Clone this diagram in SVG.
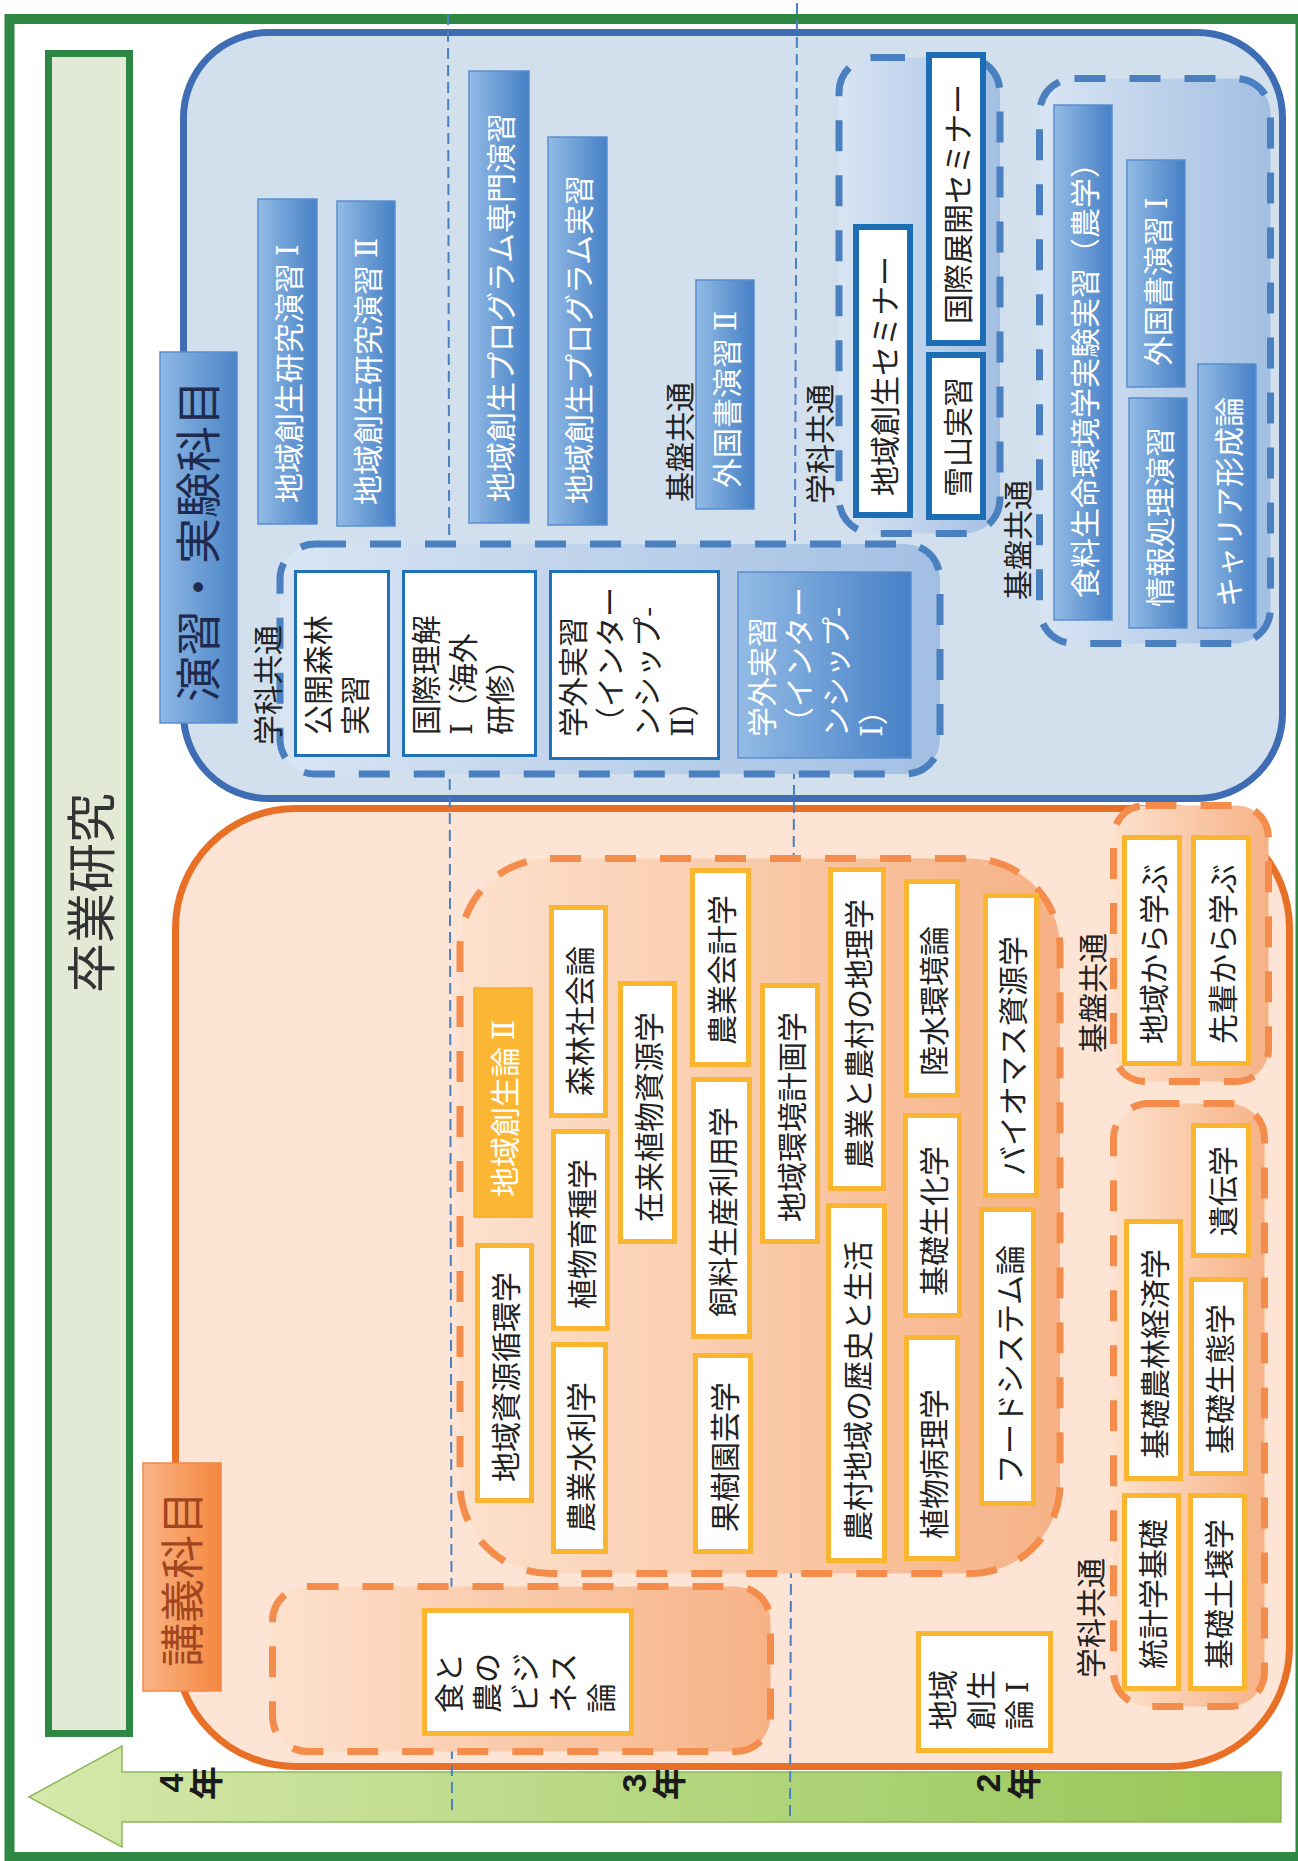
<svg xmlns="http://www.w3.org/2000/svg" width="1298" height="1861" viewBox="0 0 1298 1861">
<defs>
<linearGradient id="gBB" x1="0" y1="0" x2="1" y2="0"><stop offset="0" stop-color="#93bbe5"/><stop offset="1" stop-color="#4580c6"/></linearGradient>
<linearGradient id="gBG" x1="0" y1="0" x2="1" y2="0"><stop offset="0" stop-color="#d9e5f3"/><stop offset="1" stop-color="#a2bfe3"/></linearGradient>
<linearGradient id="gOG" x1="0" y1="0" x2="1" y2="0"><stop offset="0" stop-color="#fde1cd"/><stop offset="1" stop-color="#f6b286"/></linearGradient>
<linearGradient id="gLB" x1="0" y1="0" x2="1" y2="0"><stop offset="0" stop-color="#8fb8e4"/><stop offset="1" stop-color="#4a84c7"/></linearGradient>
<linearGradient id="gLO" x1="0" y1="0" x2="1" y2="0"><stop offset="0" stop-color="#f9b588"/><stop offset="1" stop-color="#f5873e"/></linearGradient>
<linearGradient id="gAr" x1="0" y1="0" x2="1" y2="0"><stop offset="0" stop-color="#d6e8ab"/><stop offset="1" stop-color="#95c657"/></linearGradient>
</defs>
<style>
.t{font-family:"Noto Sans CJK JP","Noto Sans",sans-serif;font-size:30px;dominant-baseline:central}
.r{font-family:"DejaVu Serif","Liberation Serif","Noto Sans CJK JP",serif}
.w{fill:#ffffff}
.k{fill:#222222}
.bb{fill:url(#gBB);stroke:#5a8fce;stroke-width:1.5}
.wb{fill:#ffffff;stroke:#1f72b8;stroke-width:3}
.wbt{fill:#ffffff;stroke:#1c6db5;stroke-width:6}
.ob{fill:#ffffff;stroke:#fbb631;stroke-width:5}
.bg{fill:url(#gBG);stroke:#4a7fc0;stroke-width:7;stroke-dasharray:31 24}
.og{fill:url(#gOG);stroke:#f48d4c;stroke-width:7;stroke-dasharray:31 24}
.yr{font-family:"Liberation Sans","Noto Sans CJK JP",sans-serif;font-size:34px;font-weight:bold;fill:#1a1a1a;dominant-baseline:central;text-anchor:middle}
.dl{stroke:#4a7fc1;stroke-width:2;stroke-dasharray:11 6;fill:none}
</style>
<rect x="0" y="0" width="1298" height="1861" fill="#ffffff"/>
<g id="frame">
<rect x="9.5" y="19" width="1291" height="1838" fill="#ffffff" stroke="#2e8743" stroke-width="10"/>
</g>
<g id="sotsugyo">
<rect x="48.5" y="53.5" width="81" height="1680" fill="#e2ead5" stroke="#2e8743" stroke-width="7"/>
<text class="t" style="font-size:50px;fill:#333" text-anchor="middle" transform="translate(88,893) rotate(-90)">卒業研究</text>
</g>
<g id="arrow">
<polygon points="29,1797 122,1746 122,1772 1281,1772 1281,1822 122,1822 122,1847" fill="url(#gAr)" stroke="#8fb85a" stroke-width="1.5"/>
<text class="yr" transform="translate(171,1783) rotate(-90)">4</text>
<text class="yr" transform="translate(207,1783) rotate(-90)">年</text>
<text class="yr" transform="translate(634,1783) rotate(-90)">3</text>
<text class="yr" transform="translate(670,1783) rotate(-90)">年</text>
<text class="yr" transform="translate(988,1783) rotate(-90)">2</text>
<text class="yr" transform="translate(1025,1783) rotate(-90)">年</text>
</g>
<g id="enshu-area">
<rect x="183.5" y="32.5" width="1099" height="766" rx="85" fill="#d2e0ee" stroke="#3e6db4" stroke-width="7"/>
</g>
<g id="kogi-area">
<rect x="175.5" y="808.5" width="1114" height="958" rx="120" fill="#fde4d4" stroke="#e87026" stroke-width="7"/>
</g>
<g id="connectors">
<line class="dl" x1="448" y1="14" x2="452" y2="1810"/>
<line class="dl" x1="797" y1="3" x2="790" y2="1820"/>
</g>
<g id="label-enshu">
<rect x="160" y="352" width="77" height="371" fill="url(#gLB)" stroke="#5a8fce" stroke-width="1.5"/>
<text class="t" style="font-size:46px;fill:#1e2b4f" text-anchor="middle" transform="translate(195,541) rotate(-90)">演習・実験科目</text>
</g>
<g id="label-kogi">
<rect x="143" y="1463" width="78" height="228" fill="url(#gLO)" stroke="#f08a4a" stroke-width="1.5"/>
<text class="t" style="font-size:44px;fill:#a2461f" text-anchor="middle" transform="translate(180,1579) rotate(-90)">講義科目</text>
</g>
<g id="blue-top">
<g id="n-kenkyu1"><rect class="bb" x="258" y="199" width="59" height="325"/><text class="t w" transform="translate(287,503) rotate(-90)">地域創生研究演習 <tspan class="r">Ⅰ</tspan></text></g>
<g id="n-kenkyu2"><rect class="bb" x="337" y="201" width="58" height="325"/><text class="t w" transform="translate(366,505) rotate(-90)">地域創生研究演習 <tspan class="r">Ⅱ</tspan></text></g>
<g id="n-senmon"><rect class="bb" x="469" y="71" width="60" height="452"/><text class="t w" transform="translate(499,502) rotate(-90)">地域創生プログラム専門演習</text></g>
<g id="n-program"><rect class="bb" x="548" y="137" width="59" height="388"/><text class="t w" transform="translate(577,504) rotate(-90)">地域創生プログラム実習</text></g>
<g id="n-gaikoku2"><rect class="bb" x="696" y="280" width="58" height="229"/><text class="t w" transform="translate(725,488) rotate(-90)">外国書演習 <tspan class="r">Ⅱ</tspan></text></g>
<text class="t k" transform="translate(678,502) rotate(-90)">基盤共通</text>
<text class="t k" transform="translate(818,504) rotate(-90)">学科共通</text>
</g>
<g id="grp-seminar">
<rect class="bg" x="839" y="57.5" width="161" height="476" rx="35"/>
<g id="n-chiikisem"><rect class="wbt" x="856" y="227" width="54" height="288"/><text class="t k" transform="translate(883,496) rotate(-90)">地域創生セミナー</text></g>
<g id="n-kokusaisem"><rect class="wbt" x="929" y="55" width="54" height="288"/><text class="t k" transform="translate(956,324) rotate(-90)">国際展開セミナー</text></g>
<g id="n-yukiyama"><rect class="wbt" x="929" y="355" width="54" height="162"/><text class="t k" transform="translate(956,497) rotate(-90)">雪山実習</text></g>
</g>
<text class="t k" transform="translate(1016,600) rotate(-90)">基盤共通</text>
<g id="grp-kiban-blue">
<rect class="bg" x="1039.5" y="78.5" width="231" height="565" rx="35"/>
<g id="n-shokuryo"><rect class="bb" x="1054" y="105" width="58" height="515"/><text class="t w" transform="translate(1083,598) rotate(-90)">食料生命環境学実験実習（農学）</text></g>
<g id="n-gaikoku1"><rect class="bb" x="1127" y="160" width="58" height="227"/><text class="t w" transform="translate(1156,366) rotate(-90)">外国書演習 <tspan class="r">Ⅰ</tspan></text></g>
<g id="n-joho"><rect class="bb" x="1129" y="398" width="58" height="230"/><text class="t w" transform="translate(1158,607) rotate(-90)">情報処理演習</text></g>
<g id="n-career"><rect class="bb" x="1198" y="364" width="58" height="264"/><text class="t w" transform="translate(1227,607) rotate(-90)">キャリア形成論</text></g>
</g>
<g id="grp-gakka-blue">
<rect class="bg" x="280" y="544" width="660" height="230" rx="35"/>
<g id="n-koukai"><rect class="wb" x="295.5" y="571.5" width="93" height="184"/><text class="t k" transform="translate(316,735) rotate(-90)"><tspan x="0" y="0">公開森林</tspan><tspan x="0" y="37">実習</tspan></text></g>
<g id="n-kokusairikai"><rect class="wb" x="403.5" y="571.5" width="132" height="184"/><text class="t k" transform="translate(424,735) rotate(-90)"><tspan x="0" y="0">国際理解</tspan><tspan x="0" y="37"><tspan class="r">Ⅰ</tspan>（海外</tspan><tspan x="0" y="74">研修）</tspan></text></g>
<g id="n-intern2"><rect class="wb" x="550.5" y="571.5" width="168" height="187"/><text class="t k" transform="translate(571,737) rotate(-90)"><tspan x="0" y="0">学外実習</tspan><tspan x="0" y="37">（インター</tspan><tspan x="0" y="74">ンシップ-</tspan><tspan x="0" y="111"><tspan class="r">Ⅱ</tspan>）</tspan></text></g>
<g id="n-intern1"><rect class="bb" x="738" y="572" width="173" height="186"/><text class="t w" transform="translate(760,737) rotate(-90)"><tspan x="0" y="0">学外実習</tspan><tspan x="0" y="37">（インター</tspan><tspan x="0" y="74">ンシップ-</tspan><tspan x="0" y="111"><tspan class="r">Ⅰ</tspan>）</tspan></text></g>
</g>
<text class="t k" transform="translate(266,745) rotate(-90)">学科共通</text>
<g id="grp-main-orange">
<rect class="og" x="460" y="858.5" width="600" height="715" rx="90"/>
<g id="n-souseiron2"><rect x="474" y="988" width="58" height="229" fill="#fbb733" stroke="#f6ab25" stroke-width="1.5"/><text class="t w" transform="translate(503,1197) rotate(-90)">地域創生論 <tspan class="r">Ⅱ</tspan></text></g>
<g id="n-shigen"><rect class="ob" x="477.5" y="1245.5" width="54" height="255"/><text class="t k" transform="translate(504,1482) rotate(-90)">地域資源循環学</text></g>
<g id="n-shinrin"><rect class="ob" x="551.5" y="907.5" width="54" height="208"/><text class="t k" transform="translate(578,1096) rotate(-90)">森林社会論</text></g>
<g id="n-ikushu"><rect class="ob" x="553.5" y="1131.5" width="54" height="197"/><text class="t k" transform="translate(580,1309) rotate(-90)">植物育種学</text></g>
<g id="n-suiri"><rect class="ob" x="553.5" y="1344.5" width="52" height="207"/><text class="t k" transform="translate(579,1532) rotate(-90)">農業水利学</text></g>
<g id="n-zairai"><rect class="ob" x="620.5" y="983.5" width="54" height="258"/><text class="t k" transform="translate(647,1222) rotate(-90)">在来植物資源学</text></g>
<g id="n-kaikei"><rect class="ob" x="692.5" y="870.5" width="56" height="194"/><text class="t k" transform="translate(720,1045) rotate(-90)">農業会計学</text></g>
<g id="n-shiryo"><rect class="ob" x="693.5" y="1079.5" width="56" height="257"/><text class="t k" transform="translate(721,1317) rotate(-90)">飼料生産利用学</text></g>
<g id="n-kaju"><rect class="ob" x="695.5" y="1355.5" width="55" height="196"/><text class="t k" transform="translate(723,1532) rotate(-90)">果樹園芸学</text></g>
<g id="n-keikaku"><rect class="ob" x="762.5" y="985.5" width="55" height="256"/><text class="t k" transform="translate(790,1222) rotate(-90)">地域環境計画学</text></g>
<g id="n-chiri"><rect class="ob" x="830.5" y="869.5" width="53" height="319"/><text class="t k" transform="translate(857,1169) rotate(-90)">農業と農村の地理学</text></g>
<g id="n-rekishi"><rect class="ob" x="828.5" y="1205.5" width="56" height="355"/><text class="t k" transform="translate(856,1541) rotate(-90)">農村地域の歴史と生活</text></g>
<g id="n-rikusui"><rect class="ob" x="906.5" y="881.5" width="51" height="214"/><text class="t k" transform="translate(932,1076) rotate(-90)">陸水環境論</text></g>
<g id="n-seika"><rect class="ob" x="905.5" y="1115.5" width="54" height="200"/><text class="t k" transform="translate(932,1296) rotate(-90)">基礎生化学</text></g>
<g id="n-byouri"><rect class="ob" x="906.5" y="1337.5" width="51" height="221"/><text class="t k" transform="translate(932,1539) rotate(-90)">植物病理学</text></g>
<g id="n-biomass"><rect class="ob" x="985.5" y="895.5" width="51" height="300"/><text class="t k" transform="translate(1011,1176) rotate(-90)">バイオマス資源学</text></g>
<g id="n-food"><rect class="ob" x="981.5" y="1209.5" width="52" height="294"/><text class="t k" transform="translate(1008,1484) rotate(-90)">フードシステム論</text></g>
</g>
<text class="t k" transform="translate(1091,1053) rotate(-90)">基盤共通</text>
<g id="grp-kiban-orange">
<rect class="og" x="1113.5" y="805.5" width="155" height="276" rx="32"/>
<g id="n-chiikikara"><rect class="ob" x="1124.5" y="837.5" width="55" height="226"/><text class="t k" transform="translate(1152,1044) rotate(-90)">地域から学ぶ</text></g>
<g id="n-senpai"><rect class="ob" x="1193.5" y="837.5" width="55" height="226"/><text class="t k" transform="translate(1221,1044) rotate(-90)">先輩から学ぶ</text></g>
</g>
<text class="t k" transform="translate(1089,1678) rotate(-90)">学科共通</text>
<g id="grp-gakka-orange">
<rect class="og" x="1113.5" y="1103.5" width="151" height="603" rx="35"/>
<g id="n-iden"><rect class="ob" x="1193.5" y="1125.5" width="55" height="130"/><text class="t k" transform="translate(1221,1236) rotate(-90)">遺伝学</text></g>
<g id="n-keizai"><rect class="ob" x="1126.5" y="1221.5" width="54" height="257"/><text class="t k" transform="translate(1153,1459) rotate(-90)">基礎農林経済学</text></g>
<g id="n-seitai"><rect class="ob" x="1191.5" y="1279.5" width="54" height="194"/><text class="t k" transform="translate(1218,1454) rotate(-90)">基礎生態学</text></g>
<g id="n-toukei"><rect class="ob" x="1124.5" y="1495.5" width="54" height="193"/><text class="t k" transform="translate(1151,1669) rotate(-90)">統計学基礎</text></g>
<g id="n-dojou"><rect class="ob" x="1190.5" y="1495.5" width="54" height="193"/><text class="t k" transform="translate(1217,1669) rotate(-90)">基礎土壌学</text></g>
</g>
<g id="n-souseiron1"><rect class="ob" x="918.5" y="1633.5" width="132" height="117"/><text class="t k" transform="translate(941,1730) rotate(-90)"><tspan x="0" y="0">地域</tspan><tspan x="0" y="38">創生</tspan><tspan x="0" y="76">論 <tspan class="r">Ⅰ</tspan></tspan></text></g>
<g id="grp-shokuno">
<rect class="og" x="272.5" y="1586.5" width="498" height="165" rx="35"/>
<g id="n-shokuno"><rect class="ob" x="424.5" y="1610.5" width="207" height="123"/><text class="t k" transform="translate(447,1713) rotate(-90)"><tspan x="0" y="0">食と</tspan><tspan x="0" y="38">農の</tspan><tspan x="0" y="76">ビジ</tspan><tspan x="0" y="114">ネス</tspan><tspan x="0" y="152">論</tspan></text></g>
</g>
</svg>
